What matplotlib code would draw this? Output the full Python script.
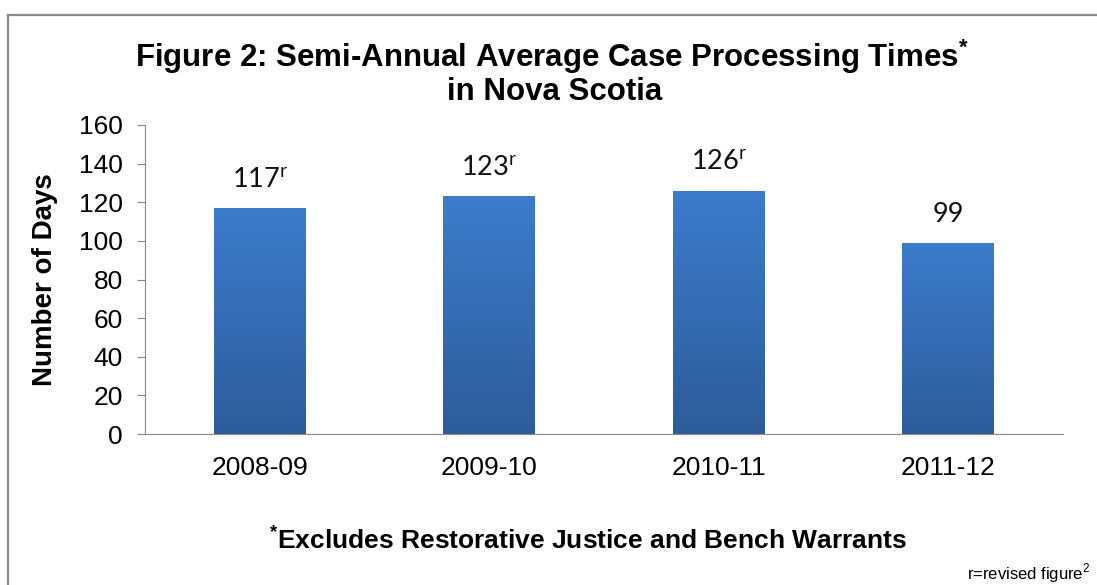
import matplotlib
matplotlib.use("Agg")
import matplotlib.pyplot as plt
import numpy as np
from matplotlib.colors import LinearSegmentedColormap
from matplotlib.lines import Line2D

# Данные
categories = ["2008-09", "2009-10", "2010-11", "2011-12"]
days = [117, 123, 126, 99]
revised = [True, True, True, False]

fig = plt.figure(figsize=(10.97, 5.85), dpi=100)
ax = fig.add_axes([145 / 1097, 1 - 434 / 585, (1063 - 145) / 1097, (434 - 125) / 585])

# Рамка вокруг графика (частично обрезана справа и снизу)
fig.add_artist(Line2D([8 / 1097, 8 / 1097], [0, 1 - 15 / 585], transform=fig.transFigure,
                      color="#888888", linewidth=1.6))
fig.add_artist(Line2D([8 / 1097, 1], [1 - 15 / 585, 1 - 15 / 585], transform=fig.transFigure,
                      color="#888888", linewidth=1.6))

x = np.arange(len(categories))
bars = ax.bar(x, days, width=0.4, color="none", edgecolor="none", zorder=2)

# Градиентная заливка столбцов
cmap = LinearSegmentedColormap.from_list("blue_grad", ["#2D5C9A", "#3C7CCC"])
grad = np.linspace(0, 1, 256).reshape(-1, 1)
for b in bars:
    x0, y0 = b.get_x(), b.get_y()
    w, h = b.get_width(), b.get_height()
    im = ax.imshow(grad, extent=[x0, x0 + w, y0, y0 + h], origin="lower",
                   cmap=cmap, aspect="auto", zorder=2)
    im.set_clip_path(b)

# Подписи значений
for xi, v, r in zip(x, days, revised):
    label = f"{v}$^{{\\mathregular{{r}}}}$" if r else f"{v}"
    ax.text(xi, v + 8, label, ha="center", va="bottom", fontsize=19.5,
            family="Lato", color="#111111")

ax.set_xlim(-0.5, len(categories) - 0.5)
ax.set_ylim(0, 160)
ax.set_yticks(range(0, 161, 20))
ax.set_xticks(x)
ax.set_xticklabels(categories)
ax.tick_params(axis="y", labelsize=19, length=6, color="#888888", pad=10,
               labelfontfamily="Liberation Sans")
ax.tick_params(axis="x", labelsize=19, length=0, pad=16,
               labelfontfamily="Liberation Sans")

for side in ["top", "right"]:
    ax.spines[side].set_visible(False)
ax.spines["left"].set_color("#888888")
ax.spines["bottom"].set_color("#888888")

ax.set_ylabel("Number of Days", fontsize=20, fontweight="bold",
              family="Liberation Sans")
ax.yaxis.set_label_coords(-0.095, 0.5)

# Заголовок
fig.text(552 / 1097, 1 - 57 / 585,
         "Figure 2: Semi-Annual Average Case Processing Times$^{\\mathregular{*}}$",
         ha="center", va="center", fontsize=22.5, fontweight="bold", family="Liberation Sans")
fig.text(555 / 1097, 1 - 92 / 585, "in Nova Scotia",
         ha="center", va="center", fontsize=22.5, fontweight="bold", family="Liberation Sans")

# Сноски
fig.text(588 / 1097, 1 - 540 / 585,
         "$^{\\mathregular{*}}$Excludes Restorative Justice and Bench Warrants",
         ha="center", va="center", fontsize=19, fontweight="bold", family="Liberation Sans")
fig.text(1090 / 1097, 1 - 573 / 585, "r=revised figure$^{\\mathregular{2}}$",
         ha="right", va="center", fontsize=12, family="Liberation Sans")

fig.savefig("out.png", dpi=100)
